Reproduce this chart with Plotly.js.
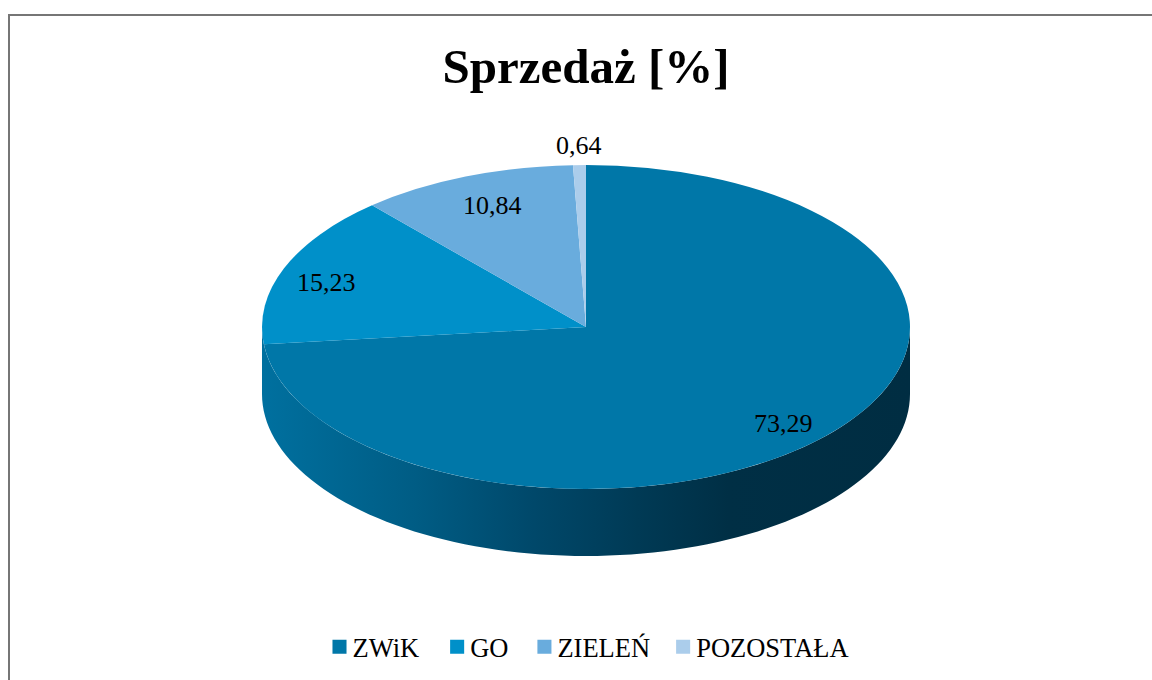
<!DOCTYPE html>
<html><head><meta charset="utf-8">
<script src="https://cdn.plot.ly/plotly-3.0.1.min.js"></script>
<style>html,body{margin:0;padding:0;background:#fff;overflow:hidden}</style>
</head><body><div id="chart" style="width:1152px;height:680px"></div>
<script>
const categories = ['ZWiK', 'GO', 'ZIELEŃ', 'POZOSTAŁA'];
const values = [73.29, 15.23, 10.84, 0.64];
const sliceColors = ['#0077A8', '#0090C9', '#69ACDD', '#ABCDEB'];
const valueLabels = ['73,29', '15,23', '10,84', '0,64'];
const titleText = 'Sprzedaż [%]';
const wallColors = [[0, '#00709F'], [0.24, '#005C84'], [0.42, '#00486A'], [0.58, '#003A55'], [0.72, '#002F45'], [1, '#002D42']];

const W = 1152, H = 680, CX = 586, CY = 327, R = 324, DEPTH = 67, SQUASH = 0.5;
const px = x => (x - CX) / R, py = y => (CY - y) / R;

// Side wall of the disc: the lower half of the rim, pushed down by DEPTH.
const wallX = [], wallY = [];
for (let a = 180; a <= 360; a += 2) {
  const t = a * Math.PI / 180;
  wallX.push(Math.cos(t));
  wallY.push(Math.sin(t) * SQUASH);
}
for (let a = 360; a >= 180; a -= 2) {
  const t = a * Math.PI / 180;
  wallX.push(Math.cos(t));
  wallY.push(Math.sin(t) * SQUASH - DEPTH / R);
}

const traces = [
  { type: 'scatter', mode: 'none', x: wallX, y: wallY, fill: 'toself',
    fillgradient: { type: 'horizontal', colorscale: wallColors },
    showlegend: false, hoverinfo: 'skip', xaxis: 'x', yaxis: 'y' },
  { type: 'pie', labels: categories, values: values, sort: false, direction: 'clockwise', rotation: 0,
    marker: { colors: sliceColors, line: { width: 0 } }, textinfo: 'none', hoverinfo: 'label+value',
    domain: { x: [(CX - R) / W, (CX + R) / W], y: [1 - (CY + R) / H, 1 - (CY - R) / H] } }
];

const labelPos = [[783, 423], [326, 282], [492, 205], [579, 145]];
const legendShift = [-13, -7, -3, -2];
const font = 'Liberation Serif';
const layout = {
  width: W, height: H, margin: { l: 0, r: 0, t: 0, b: 0 },
  paper_bgcolor: '#fff', plot_bgcolor: '#fff',
  font: { family: font, color: '#000' },
  title: { text: '<b>' + titleText + '</b>', font: { family: font, size: 49, color: '#000' },
           x: 586 / W, xanchor: 'center', y: 1 - 66 / H, yanchor: 'middle' },
  xaxis: { visible: false, range: [px(0), px(W)], fixedrange: true },
  yaxis: { visible: false, range: [py(H), py(0)], fixedrange: true },
  showlegend: true,
  legend: { orientation: 'h', x: 591 / W, xanchor: 'center', y: 1 - 647 / H, yanchor: 'middle',
            font: { family: font, size: 26.5, color: '#000' }, bgcolor: 'rgba(0,0,0,0)', itemclick: false, itemdoubleclick: false },
  annotations: valueLabels.map((t, i) => ({
    text: t, xref: 'paper', yref: 'paper', x: labelPos[i][0] / W, y: 1 - labelPos[i][1] / H,
    xanchor: 'center', yanchor: 'middle', showarrow: false,
    font: { family: font, size: 26, color: '#000' } })),
  shapes: [
    { type: 'line', xref: 'paper', yref: 'paper', x0: 8 / W, x1: 1, y0: 1 - 15 / H, y1: 1 - 15 / H, line: { color: '#767676', width: 2 } },
    { type: 'line', xref: 'paper', yref: 'paper', x0: 9 / W, x1: 9 / W, y0: 1 - 14 / H, y1: 0, line: { color: '#767676', width: 2 } }
  ]
};

Plotly.newPlot('chart', traces, layout, { displayModeBar: false }).then(gd => {
  // Excel-style perspective: flatten the pie disc about its centre.
  gd.querySelectorAll('.pielayer').forEach(g =>
    g.setAttribute('transform', `translate(0,${CY * (1 - SQUASH)}) scale(1,${SQUASH})`));
  // Tighten the legend swatches to the reference's spacing and size.
  gd.querySelectorAll('.legend .traces').forEach((g, i) => {
    g.setAttribute('transform', (g.getAttribute('transform') || '') + ` translate(${legendShift[i]},0)`);
    const p = g.querySelector('.legendpoints path');
    if (p) p.setAttribute('transform', (p.getAttribute('transform') || '') + ' translate(7,0) scale(1.17)');
  });
});
</script></body></html>
